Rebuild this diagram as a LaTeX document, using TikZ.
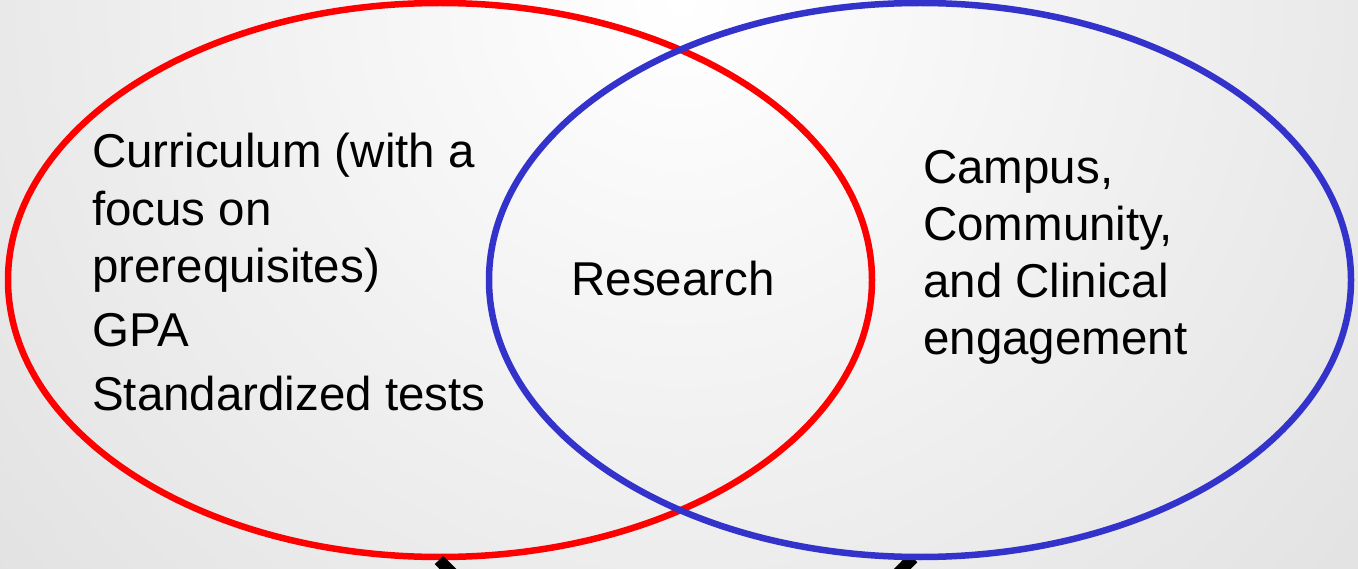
\documentclass[tikz,border=0pt]{standalone}
\usepackage{fontspec}
\setmainfont{Liberation Sans}
\usetikzlibrary{shapes.geometric}
\definecolor{vred}{RGB}{255,0,0}
\definecolor{vblue}{RGB}{51,51,204}
\definecolor{bgedge}{RGB}{200,200,200}
\begin{document}
\begin{tikzpicture}[x=1pt,y=-1pt,
  txt/.style={inner sep=0pt,anchor=base west,font=\fontsize{47.5}{57}\selectfont},
  setring/.style={line width=6.5pt,ellipse,inner sep=0pt,outer sep=0pt},
  link/.style={line width=12pt,black,line cap=butt}]
\useasboundingbox (0,0) rectangle (1358,569);
\begin{scope}
\clip (0,0) rectangle (1358,569);
\shade[inner color=white,outer color=bgedge] (-1020,-1700) rectangle (2380,1700);
\end{scope}
% converging links (partly hidden below the page)
\coordinate (meet) at (678,800);
\coordinate (lstart) at (439,560);
\coordinate (rstart) at (913,558);
\draw[link] (rstart) -- (meet);
\node[draw=vred,setring,minimum width=864pt,minimum height=554pt] (red) at (440,280) {};
\node[draw=vblue,setring,minimum width=862pt,minimum height=554pt] (blue) at (920,280) {};
\draw[link] (lstart) -- (meet);
% left texts
\node[txt] (l1) at (92,168) {Curriculum (with a};
\node[txt] (l2) at (92,226) {focus on};
\node[txt] (l3) at (92,283) {prerequisites)};
\node[txt] (l4) at (92,347) {GPA};
\node[txt] (l5) at (92,410.5) {Standardized tests};
% centre text
\node[txt,anchor=base] (res) at (673,296) {Research};
% right texts
\node[txt] (r1) at (923,184) {Campus,};
\node[txt] (r2) at (923,241) {Community,};
\node[txt] (r3) at (923,298) {and Clinical};
\node[txt] (r4) at (923,355) {engagement};
\end{tikzpicture}
\end{document}
